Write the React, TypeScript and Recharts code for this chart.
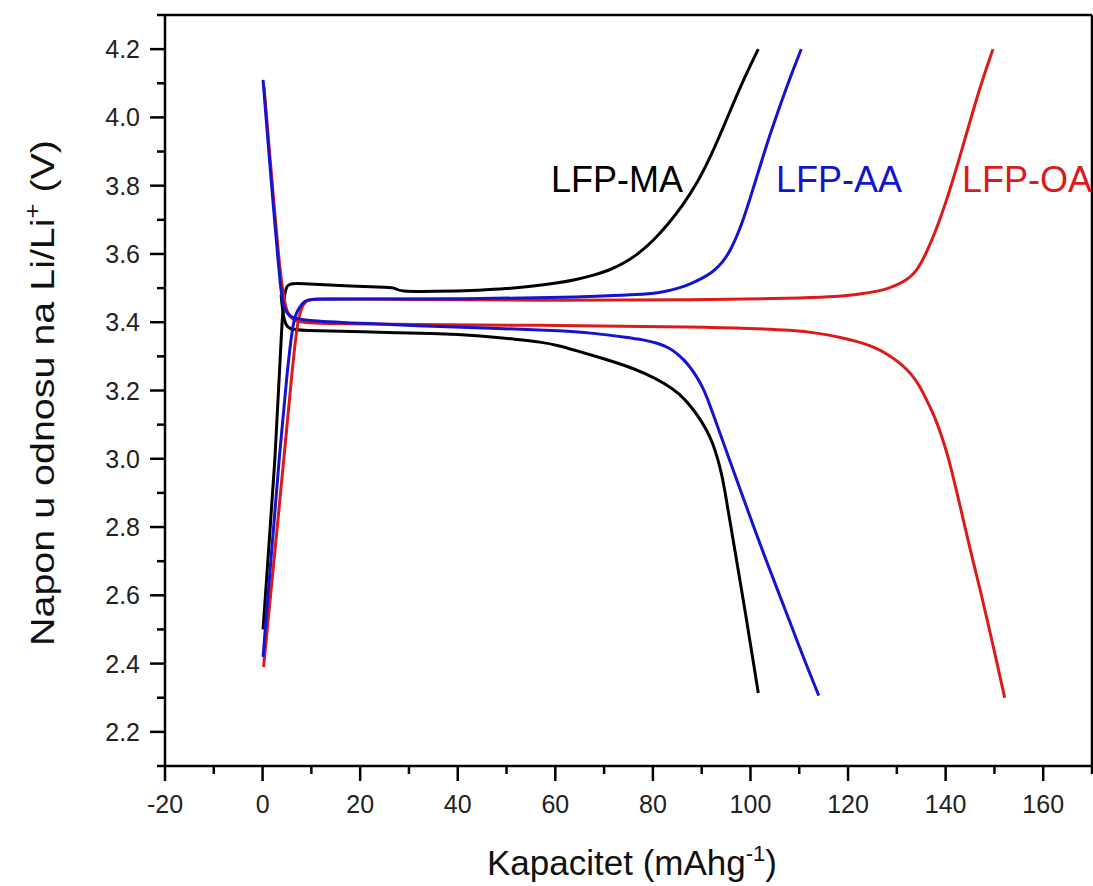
import { LineChart, Line, XAxis, YAxis } from 'recharts'

// capacity (mAh/g) vs voltage (V)
const maCharge = [
  { q: 0.1, v: 2.5 }, { q: 1.3, v: 2.75 }, { q: 2.6, v: 3.0 }, { q: 3.4, v: 3.24 }, { q: 3.9, v: 3.38 },
  { q: 4.3, v: 3.46 }, { q: 4.8, v: 3.505 }, { q: 5.6, v: 3.515 }, { q: 10, v: 3.512 }, { q: 18, v: 3.506 },
  { q: 26, v: 3.502 }, { q: 27.3, v: 3.5 }, { q: 27.9, v: 3.49 }, { q: 35, v: 3.49 }, { q: 45, v: 3.494 },
  { q: 50, v: 3.498 }, { q: 55, v: 3.505 }, { q: 60, v: 3.514 }, { q: 64, v: 3.524 }, { q: 68, v: 3.538 },
  { q: 71, v: 3.552 }, { q: 74, v: 3.572 }, { q: 77, v: 3.6 }, { q: 80, v: 3.638 }, { q: 83, v: 3.685 },
  { q: 86, v: 3.74 }, { q: 89, v: 3.805 }, { q: 92, v: 3.89 }, { q: 95, v: 3.99 }, { q: 98.2, v: 4.1 },
  { q: 101.6, v: 4.2 },
]
const maDischarge = [
  { q: 3.8, v: 3.48 }, { q: 4.2, v: 3.42 }, { q: 4.8, v: 3.39 }, { q: 5.6, v: 3.38 }, { q: 7.6, v: 3.376 },
  { q: 20, v: 3.372 }, { q: 35.6, v: 3.367 }, { q: 45, v: 3.36 }, { q: 52, v: 3.35 }, { q: 57, v: 3.342 },
  { q: 60.7, v: 3.332 }, { q: 64, v: 3.318 }, { q: 69, v: 3.297 }, { q: 74.4, v: 3.273 }, { q: 78.5, v: 3.25 },
  { q: 82.6, v: 3.22 }, { q: 85.5, v: 3.19 }, { q: 88, v: 3.15 }, { q: 89.5, v: 3.12 }, { q: 91, v: 3.085 },
  { q: 92.3, v: 3.045 }, { q: 93.3, v: 3.0 }, { q: 94.2, v: 2.95 }, { q: 95, v: 2.885 }, { q: 96, v: 2.8 },
  { q: 97, v: 2.715 }, { q: 98, v: 2.63 }, { q: 99, v: 2.545 }, { q: 100.3, v: 2.43 }, { q: 101.6, v: 2.314 },
]
const aaCharge = [
  { q: 0.1, v: 2.42 }, { q: 1.8, v: 2.72 }, { q: 3.5, v: 3.02 }, { q: 5.0, v: 3.25 }, { q: 6.1, v: 3.385 },
  { q: 6.8, v: 3.425 }, { q: 7.6, v: 3.445 }, { q: 8.6, v: 3.462 }, { q: 9.6, v: 3.468 }, { q: 20, v: 3.468 },
  { q: 40, v: 3.468 }, { q: 60.7, v: 3.472 }, { q: 70, v: 3.477 }, { q: 77, v: 3.481 }, { q: 81.2, v: 3.486 },
  { q: 84, v: 3.495 }, { q: 86, v: 3.503 }, { q: 88, v: 3.514 }, { q: 90, v: 3.528 }, { q: 92, v: 3.545 },
  { q: 93.5, v: 3.563 }, { q: 95, v: 3.59 }, { q: 96.1, v: 3.617 }, { q: 97.3, v: 3.655 }, { q: 98.5, v: 3.7 },
  { q: 99.8, v: 3.757 }, { q: 101.6, v: 3.84 }, { q: 103, v: 3.905 }, { q: 104.3, v: 3.962 }, { q: 105.8, v: 4.024 },
  { q: 107.2, v: 4.08 }, { q: 108.8, v: 4.142 }, { q: 110.4, v: 4.2 },
]
const aaDischarge = [
  { q: 0.1, v: 4.11 }, { q: 1.1, v: 3.93 }, { q: 2.1, v: 3.757 }, { q: 3.0, v: 3.61 }, { q: 3.8, v: 3.484 },
  { q: 4.4, v: 3.44 }, { q: 5.5, v: 3.415 }, { q: 8.2, v: 3.405 }, { q: 20, v: 3.397 }, { q: 31.4, v: 3.39 },
  { q: 45, v: 3.383 }, { q: 60.7, v: 3.376 }, { q: 68, v: 3.368 }, { q: 74.4, v: 3.356 }, { q: 78, v: 3.349 },
  { q: 81.2, v: 3.338 }, { q: 83.3, v: 3.325 }, { q: 85, v: 3.308 }, { q: 86.5, v: 3.288 }, { q: 87.8, v: 3.265 },
  { q: 89, v: 3.24 }, { q: 90.2, v: 3.21 }, { q: 91.5, v: 3.165 }, { q: 93.5, v: 3.085 }, { q: 96, v: 2.985 },
  { q: 98.9, v: 2.87 }, { q: 101, v: 2.788 }, { q: 103, v: 2.71 }, { q: 105.7, v: 2.61 }, { q: 108.4, v: 2.51 },
  { q: 111.2, v: 2.405 }, { q: 114, v: 2.306 },
]
const oaCharge = [
  { q: 0.2, v: 2.39 }, { q: 2.4, v: 2.71 }, { q: 4.5, v: 3.02 }, { q: 6.0, v: 3.25 }, { q: 7.0, v: 3.385 },
  { q: 7.8, v: 3.44 }, { q: 9.0, v: 3.465 }, { q: 10.5, v: 3.47 }, { q: 30, v: 3.466 }, { q: 60.7, v: 3.464 },
  { q: 90, v: 3.466 }, { q: 105, v: 3.469 }, { q: 115.3, v: 3.473 }, { q: 120, v: 3.478 }, { q: 123, v: 3.484 },
  { q: 126.2, v: 3.491 }, { q: 128.2, v: 3.499 }, { q: 130, v: 3.509 }, { q: 131.5, v: 3.52 }, { q: 133, v: 3.535 },
  { q: 134.3, v: 3.557 }, { q: 135.4, v: 3.585 }, { q: 136.4, v: 3.615 }, { q: 137.5, v: 3.652 }, { q: 138.7, v: 3.697 },
  { q: 139.9, v: 3.745 }, { q: 141.2, v: 3.803 }, { q: 142.5, v: 3.864 }, { q: 143.8, v: 3.929 }, { q: 145.2, v: 3.998 },
  { q: 146.2, v: 4.047 }, { q: 147.3, v: 4.098 }, { q: 148.5, v: 4.15 }, { q: 149.7, v: 4.2 },
]
const oaDischarge = [
  { q: 0.3, v: 4.09 }, { q: 1.3, v: 3.92 }, { q: 2.3, v: 3.75 }, { q: 3.3, v: 3.59 }, { q: 4.2, v: 3.48 },
  { q: 5.0, v: 3.425 }, { q: 6.5, v: 3.402 }, { q: 10, v: 3.396 }, { q: 30, v: 3.393 }, { q: 60.7, v: 3.391 },
  { q: 90, v: 3.386 }, { q: 100, v: 3.382 }, { q: 108.4, v: 3.377 }, { q: 114, v: 3.368 }, { q: 118.6, v: 3.355 },
  { q: 122, v: 3.343 }, { q: 124.5, v: 3.332 }, { q: 126.5, v: 3.319 }, { q: 128.5, v: 3.302 }, { q: 130.3, v: 3.284 },
  { q: 131.8, v: 3.265 }, { q: 133, v: 3.247 }, { q: 134.3, v: 3.222 }, { q: 135.5, v: 3.19 }, { q: 136.7, v: 3.155 },
  { q: 137.8, v: 3.121 }, { q: 139, v: 3.075 }, { q: 140.1, v: 3.025 }, { q: 141.1, v: 2.974 }, { q: 142.5, v: 2.89 },
  { q: 144, v: 2.798 }, { q: 145.6, v: 2.7 }, { q: 147.3, v: 2.605 }, { q: 149.7, v: 2.455 }, { q: 152.1, v: 2.3 },
]

const X_TICKS = [-20, -10, 0, 10, 20, 30, 40, 50, 60, 70, 80, 90, 100, 110, 120, 130, 140, 150, 160, 170]
const X_LABELS = [-20, 0, 20, 40, 60, 80, 100, 120, 140, 160]
const Y_TICKS = [2.1, 2.2, 2.3, 2.4, 2.5, 2.6, 2.7, 2.8, 2.9, 3.0, 3.1, 3.2, 3.3, 3.4, 3.5, 3.6, 3.7, 3.8, 3.9, 4.0, 4.1, 4.2, 4.3]
const Y_LABELS = [2.2, 2.4, 2.6, 2.8, 3.0, 3.2, 3.4, 3.6, 3.8, 4.0, 4.2]

const BLACK = '#000000'
const BLUE = '#1414cc'
const RED = '#dc1a1a'
const FONT = '"Liberation Sans", Arial, sans-serif'
const AXIS_LINE = { stroke: '#000', strokeWidth: 2.5 }

function XTick({ x, y, payload }: any) {
  const major = X_LABELS.includes(payload.value)
  return (
    <g>
      <line x1={x} y1={y} x2={x} y2={y + (major ? 15 : 8)} stroke="#000" strokeWidth={2.5} />
      {major && (
        <text x={x} y={y + 47} textAnchor="middle" fontSize={25} fill="#222" fontFamily={FONT}>
          {payload.value}
        </text>
      )}
    </g>
  )
}

function YTick({ x, y, payload }: any) {
  const major = Y_LABELS.some((l) => Math.abs(l - payload.value) < 1e-6)
  return (
    <g>
      <line x1={x} y1={y} x2={x - (major ? 15 : 8)} y2={y} stroke="#000" strokeWidth={2.5} />
      {major && (
        <text x={x - 25} y={y + 9} textAnchor="end" fontSize={25} fill="#222" fontFamily={FONT}>
          {payload.value.toFixed(1)}
        </text>
      )}
    </g>
  )
}

const series = [
  { key: 'ma-c', data: maCharge, color: BLACK },
  { key: 'ma-d', data: maDischarge, color: BLACK },
  { key: 'oa-c', data: oaCharge, color: RED },
  { key: 'oa-d', data: oaDischarge, color: RED },
  { key: 'aa-c', data: aaCharge, color: BLUE },
  { key: 'aa-d', data: aaDischarge, color: BLUE },
]

export default function App() {
  return (
    <div style={{ position: 'absolute', left: 0, top: 0, width: 1093, height: 886, background: '#fff' }}>
      <LineChart width={1093} height={886} margin={{ top: 14, right: 0, bottom: 0, left: 0 }}>
        <XAxis
          dataKey="q"
          type="number"
          domain={[-20, 170]}
          ticks={X_TICKS}
          interval={0}
          allowDataOverflow
          height={120}
          tickSize={0}
          tickMargin={0}
          tickLine={false}
          tick={<XTick />}
          stroke="#000"
          axisLine={AXIS_LINE}
        />
        <XAxis
          xAxisId="top"
          orientation="top"
          type="number"
          domain={[-20, 170]}
          height={1}
          tick={false}
          tickLine={false}
          stroke="#000"
          axisLine={AXIS_LINE}
        />
        <YAxis
          type="number"
          domain={[2.1, 4.3]}
          ticks={Y_TICKS}
          interval={0}
          allowDataOverflow
          width={165}
          tickSize={0}
          tickMargin={0}
          tickLine={false}
          tick={<YTick />}
          stroke="#000"
          axisLine={AXIS_LINE}
        />
        <YAxis
          yAxisId="right"
          orientation="right"
          type="number"
          domain={[2.1, 4.3]}
          width={1}
          tick={false}
          tickLine={false}
          stroke="#000"
          axisLine={AXIS_LINE}
        />
        {series.map((s) => (
          <Line
            key={s.key}
            data={s.data}
            dataKey="v"
            type="basis"
            stroke={s.color}
            strokeWidth={3}
            dot={false}
            activeDot={false}
            isAnimationActive={false}
          />
        ))}
      </LineChart>
      <svg
        width={1093}
        height={886}
        style={{ position: 'absolute', left: 0, top: 0, pointerEvents: 'none' }}
        fontFamily={FONT}
      >
        <text x={551} y={192} fontSize={36} fill={BLACK}>LFP-MA</text>
        <text x={776} y={192} fontSize={36} fill={BLUE}>LFP-AA</text>
        <text x={962} y={192} fontSize={36} fill={RED}>LFP-OA</text>
        <text x={632} y={875} fontSize={35} fill="#111" textAnchor="middle">
          Kapacitet (mAhg<tspan dy={-14} fontSize={22}>-1</tspan>
          <tspan dy={14}>)</tspan>
        </text>
        <text
          transform="translate(54, 393) rotate(-90) scale(1.16, 1)"
          fontSize={34}
          fill="#111"
          textAnchor="middle"
        >
          Napon u odnosu na Li/Li<tspan dy={-14} fontSize={22}>+</tspan>
          <tspan dy={14}> (V)</tspan>
        </text>
      </svg>
    </div>
  )
}
